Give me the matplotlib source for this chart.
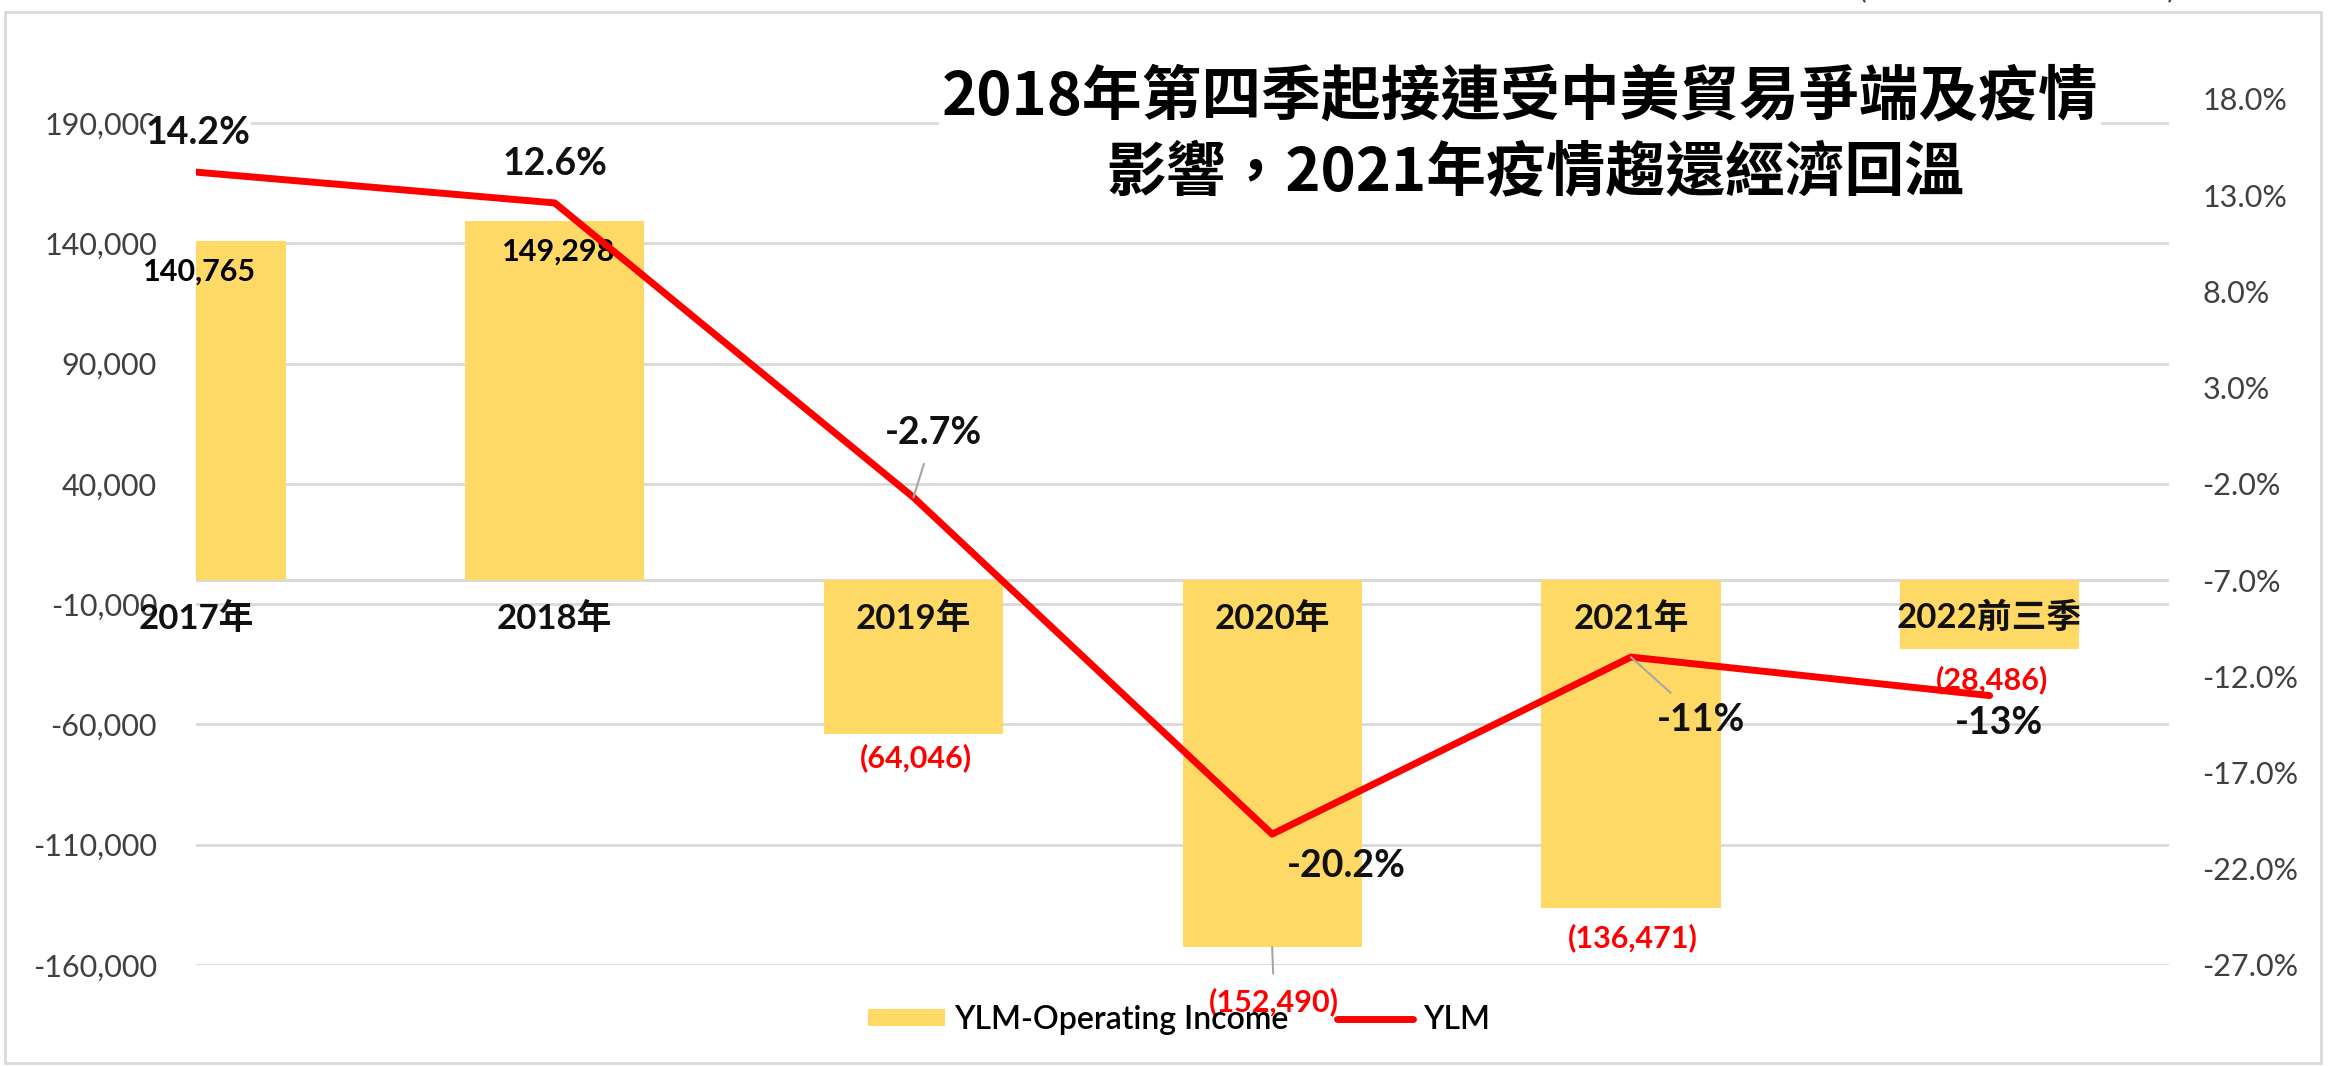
import numpy as np
import matplotlib
matplotlib.use("Agg")
import matplotlib.pyplot as plt
from matplotlib.patches import Rectangle

# data
years = ["2017年", "2018年", "2019年", "2020年", "2021年", "2022前三季"]
op_income = [140765, 149298, -64046, -152490, -136471, -28486]
margin = [14.2, 12.6, -2.7, -20.2, -11.0, -13.0]
margin_labels = ["14.2%", "12.6%", "-2.7%", "-20.2%", "-11%", "-13%"]
left_ticks = np.arange(-160000, 190001, 50000)
right_ticks = np.arange(-27, 19, 5)
title1 = "2018年第四季起接連受中美貿易爭端及疫情"
title2 = "影響，2021年疫情趨還經濟回溫"
unit_txt = "(單位：新台幣百萬元)"

BAR = "#FFD966"; RED = "#FF0000"; GRID = "#D9D9D9"; LEAD = "#A6A6A6"; TICK = "#404040"
FONT = ["Lato", "Noto Sans CJK TC"]
CJK = ["Noto Sans CJK TC", "DejaVu Sans"]
plt.rcParams["font.family"] = FONT

W, H = 2330, 1066
P = 0.72  # px -> pt at dpi 100
fig = plt.figure(figsize=(W/100, H/100), dpi=100)
def box(x0, y0, x1, y1): return [x0/W, 1-y1/H, (x1-x0)/W, (y1-y0)/H]
ax = fig.add_axes(box(196, 99, 2169, 965))
ax2 = ax.twinx()
x = np.arange(len(years))

bars = ax.bar(x, op_income, width=0.5, color=BAR, zorder=2)
ax.set_xlim(0, 5.5); ax.set_ylim(-160000, 200000)
ax.set_yticks(left_ticks); ax.set_yticklabels([f"{v:,}" for v in left_ticks])
ax.yaxis.grid(True, color=GRID, lw=2); ax.set_axisbelow(True)
ax.axhline(0, color=GRID, lw=2.2, zorder=1)
ax.set_xticks([])
ax.tick_params(axis="y", length=0, pad=28, labelsize=22, labelcolor=TICK)

line, = ax2.plot(x, margin, color=RED, lw=5, solid_capstyle="round", zorder=3)
ax2.set_ylim(-27, 18)
ax2.set_yticks(right_ticks); ax2.set_yticklabels([f"{v:.1f}%" for v in right_ticks])
ax2.tick_params(axis="y", length=0, pad=24, labelsize=22, labelcolor=TICK)
for a in (ax, ax2):
    for s in a.spines.values(): s.set_visible(False)

# category labels just under the zero line
for i, t in enumerate(years):
    ax.annotate(t, (i, 0), xytext=(0, -38*P), textcoords="offset points", ha="center", va="center",
                fontsize=25, weight="bold", color="#111111", annotation_clip=False, zorder=4)

# bar value labels (offsets in px, positive = down)
bar_dy = [30, 31, 24, 55, 29, 31]
for i, v in enumerate(op_income):
    if v >= 0:
        ax.annotate(f"{v:,}", (i, v), xytext=(4*P, -bar_dy[i]*P), textcoords="offset points", ha="center", va="center",
                    fontsize=22, weight="bold", color="black", annotation_clip=False, zorder=4)
    else:
        kw = {}
        if i == 3: kw["arrowprops"] = dict(arrowstyle="-", color=LEAD, lw=1.5, shrinkA=8, shrinkB=0)
        ax.annotate(f"({-v:,})", (i, v), xytext=(2*P, -bar_dy[i]*P), textcoords="offset points", ha="center", va="center",
                    fontsize=22, weight="bold", color=RED, annotation_clip=False, zorder=4, **kw)

# line value labels (px, positive = down)
line_off = [(2, -39), (0, -39), (20, -64), (74, 32), (70, 63), (9, 27)]
for i, (v, t) in enumerate(zip(margin, margin_labels)):
    kw = {}
    if i in (2, 4): kw["arrowprops"] = dict(arrowstyle="-", color=LEAD, lw=1.5, shrinkA=8, shrinkB=0)
    if i == 0: kw["bbox"] = dict(fc="white", ec="none", pad=0)
    ax2.annotate(t, (i, v), xytext=(line_off[i][0]*P, -line_off[i][1]*P), textcoords="offset points",
                 ha="center", va="center", fontsize=27, weight="bold", color="#111111",
                 annotation_clip=False, zorder=5, **kw)

# title with white box over the gridline
for t, cx, cy in [(title1, 1520, 97), (title2, 1535, 174)]:
    fig.text(cx/W, 1-cy/H, t, ha="center", va="center", fontsize=43, weight="bold", family=CJK,
             color="black", bbox=dict(fc="white", ec="none", pad=2), zorder=6)

# unit note, mostly cut off at the top edge as in the source
fig.text(2017/W, 1+4/H, unit_txt, ha="center", va="baseline", fontsize=24, family=CJK, color=TICK)

fig.legend([bars, line], ["YLM-Operating Income", "YLM"], loc="center", bbox_to_anchor=(1179/W, 1-1020/H),
           ncol=2, frameon=False, handlelength=2.4, handleheight=0.45, handletextpad=0.3, columnspacing=1.5,
           prop=dict(family=FONT, size=23, weight="semibold"))

fig.patches.append(Rectangle((5/W, 1-1063/H), (2321-5)/W, (1063-12)/H, transform=fig.transFigure,
                             fill=False, ec=GRID, lw=2))
fig.savefig("out.png", dpi=100)
